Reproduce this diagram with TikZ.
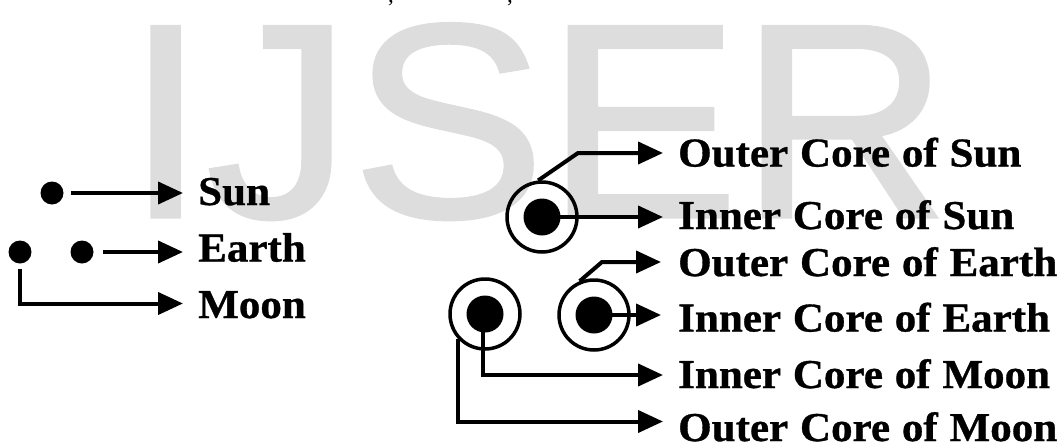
\documentclass[tikz,border=0pt]{standalone}
\usepackage{fontspec}
\setmainfont[WordSpace=1.1, FakeStretch=1.05, BoldFeatures={FakeBold=0.8}]{Liberation Serif}
\newfontfamily\wmfont[FakeStretch=1.05, FakeBold=1.2]{Liberation Sans}
\usetikzlibrary{arrows.meta}
\definecolor{wmgray}{HTML}{DDDDDD}
\begin{document}
\begin{tikzpicture}[x=1pt,y=-1pt,
  arr/.style={-{Triangle[length=25pt,width=22pt]}, line width=4pt},
  dotnode/.style={circle, fill=black, inner sep=0pt, minimum size=23pt},
  corenode/.style={circle, fill=black, inner sep=0pt, minimum size=37pt},
  ringnode/.style={circle, draw=black, line width=3.5pt, inner sep=0pt, minimum size=70pt},
  lbl/.style={anchor=base west, inner xsep=15pt, inner ysep=0pt,
              font=\bfseries\fontsize{41}{45}\selectfont},
  wm/.style={anchor=base west, inner sep=0pt, text=wmgray,
              font=\wmfont\fontsize{277}{277}\selectfont},
  cut/.style={anchor=base, inner sep=0pt, font=\fontsize{22}{22}\selectfont}]
\useasboundingbox (0,0) rectangle (1064,442);
% watermark
\node[wm] (wmark) at (125,217) {IJSER};
% cut-off text at top
\node[cut] (c1) at (391,2) {,};
\node[cut] (c2) at (510,2) {,};

% ---------- left legend ----------
\node[dotnode] (s1) at (52,193) {};
\node[dotnode] (e1) at (20,252) {};
\node[dotnode] (e2) at (82,252) {};
\node[lbl] (sunl) at (183,205) {Sun};
\node[lbl] (earthl) at (183,261.5) {Earth};
\node[lbl] (moonl) at (183,318) {Moon};
\coordinate (moony) at (0,303.5);
\draw[arr, shorten <=7pt] (s1) -- (s1 -| sunl.west);
\draw[arr, shorten <=9pt] (e2) -- (e2 -| earthl.west);
\draw[arr, shorten <=5pt] (e1) |- (moonl.west |- moony);

% ---------- Sun ----------
\node[ringnode] (sunring) at (542,217) {};
\node[corenode] (suncore) at (542,217) {};
\node[lbl] (osun) at (663,166.5) {Outer Core of Sun};
\node[lbl] (isun) at (663,229) {Inner Core of Sun};
\coordinate (sunbend) at (578,153);
\draw[arr] (sunring.96) -- (sunbend) -- (sunbend -| osun.west);
\draw[arr] (suncore.center) -- (suncore.center -| isun.west);

% ---------- Earth ----------
\node[ringnode] (earthring) at (594,315) {};
\node[corenode] (earthcore) at (594,315) {};
\node[lbl] (oearth) at (663,276) {Outer Core of Earth};
\node[lbl] (iearth) at (663,331.5) {Inner Core of Earth};
\coordinate (earthbend) at (602,262);
\draw[arr, shorten >=2pt] (earthring.113) -- (earthbend) -- (earthbend -| oearth.west);
\draw[arr, shorten >=2pt] (earthcore.center) -- (earthcore.center -| iearth.west);

% ---------- Moon ----------
\node[ringnode] (moonring) at (485,314) {};
\node[corenode] (mooncore) at (485,314) {};
\node[lbl] (imoon) at (663,388) {Inner Core of Moon};
\node[lbl] (omoon) at (663,441) {Outer Core of Moon};
\coordinate (moonib) at (483,375);
\coordinate (moonoy) at (0,421.5);
\draw[arr] (moonib |- mooncore.center) -- (moonib) -- (moonib -| imoon.west);
\draw[arr] (moonring.222) |- (omoon.west |- moonoy);
\end{tikzpicture}
\end{document}
